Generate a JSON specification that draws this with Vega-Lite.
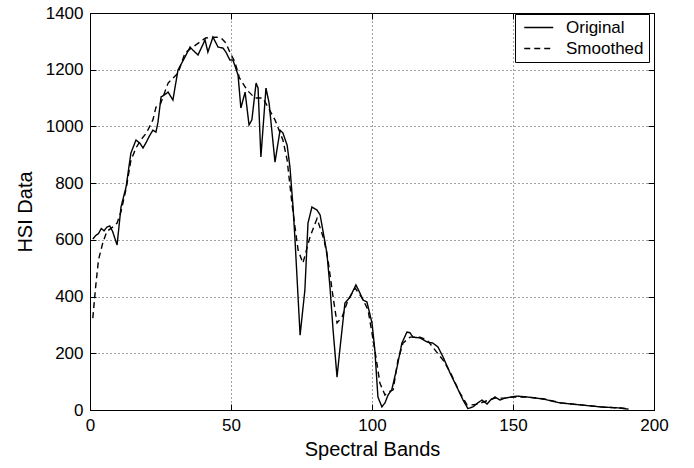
{
  "$schema": "https://vega.github.io/schema/vega-lite/v6.json",
  "autosize": {"type": "none"},
  "width": 564,
  "height": 397,
  "padding": {"left": 90, "top": 13, "right": 40, "bottom": 58},
  "background": "white",
  "config": {
    "font": "Liberation Sans",
    "view": {"stroke": "black", "strokeWidth": 1},
    "axis": {
      "domainColor": "black",
      "tickColor": "black",
      "labelColor": "black",
      "titleColor": "black",
      "labelFont": "Liberation Sans",
      "titleFont": "Liberation Sans",
      "labelFontSize": 17,
      "titleFontSize": 20,
      "titleFontWeight": "normal",
      "labelFlush": false,
      "gridColor": "#444",
      "gridDash": [1, 3],
      "gridWidth": 1,
      "tickSize": -6
    }
  },
  "data": {"values": [
    {"band":1,"hsi":603,"series":"Original"},{"band":2,"hsi":615,"series":"Original"},{"band":3,"hsi":622,"series":"Original"},{"band":4,"hsi":640,"series":"Original"},{"band":5,"hsi":632,"series":"Original"},{"band":6,"hsi":645,"series":"Original"},{"band":7,"hsi":649,"series":"Original"},{"band":8,"hsi":630,"series":"Original"},{"band":9,"hsi":600,"series":"Original"},{"band":9.6,"hsi":582,"series":"Original"},{"band":11,"hsi":716,"series":"Original"},{"band":12.8,"hsi":787,"series":"Original"},{"band":14.5,"hsi":906,"series":"Original"},{"band":16.3,"hsi":952,"series":"Original"},{"band":17.7,"hsi":941,"series":"Original"},{"band":18.8,"hsi":924,"series":"Original"},{"band":20,"hsi":945,"series":"Original"},{"band":21,"hsi":965,"series":"Original"},{"band":22.3,"hsi":987,"series":"Original"},{"band":23.4,"hsi":980,"series":"Original"},{"band":24.1,"hsi":1015,"series":"Original"},{"band":25.2,"hsi":1104,"series":"Original"},{"band":26.5,"hsi":1112,"series":"Original"},{"band":27.7,"hsi":1121,"series":"Original"},{"band":29.4,"hsi":1093,"series":"Original"},{"band":31.2,"hsi":1199,"series":"Original"},{"band":33.7,"hsi":1245,"series":"Original"},{"band":35.5,"hsi":1280,"series":"Original"},{"band":36.5,"hsi":1269,"series":"Original"},{"band":38.3,"hsi":1252,"series":"Original"},{"band":40.8,"hsi":1305,"series":"Original"},{"band":41.8,"hsi":1262,"series":"Original"},{"band":43.6,"hsi":1315,"series":"Original"},{"band":45.4,"hsi":1280,"series":"Original"},{"band":47.2,"hsi":1276,"series":"Original"},{"band":48.2,"hsi":1262,"series":"Original"},{"band":49.6,"hsi":1234,"series":"Original"},{"band":50.7,"hsi":1234,"series":"Original"},{"band":52.5,"hsi":1181,"series":"Original"},{"band":53.5,"hsi":1065,"series":"Original"},{"band":55,"hsi":1121,"series":"Original"},{"band":56.4,"hsi":1005,"series":"Original"},{"band":57.4,"hsi":1023,"series":"Original"},{"band":58.9,"hsi":1153,"series":"Original"},{"band":59.6,"hsi":1135,"series":"Original"},{"band":60.6,"hsi":892,"series":"Original"},{"band":62.4,"hsi":1135,"series":"Original"},{"band":63.5,"hsi":1083,"series":"Original"},{"band":65.6,"hsi":874,"series":"Original"},{"band":67.4,"hsi":987,"series":"Original"},{"band":68.4,"hsi":977,"series":"Original"},{"band":69.9,"hsi":934,"series":"Original"},{"band":70.9,"hsi":857,"series":"Original"},{"band":72,"hsi":716,"series":"Original"},{"band":72.7,"hsi":600,"series":"Original"},{"band":74.5,"hsi":264,"series":"Original"},{"band":76.2,"hsi":423,"series":"Original"},{"band":77.3,"hsi":659,"series":"Original"},{"band":78.7,"hsi":716,"series":"Original"},{"band":80.5,"hsi":705,"series":"Original"},{"band":81.6,"hsi":688,"series":"Original"},{"band":84,"hsi":554,"series":"Original"},{"band":85.1,"hsi":434,"series":"Original"},{"band":86.2,"hsi":282,"series":"Original"},{"band":87.6,"hsi":116,"series":"Original"},{"band":88.7,"hsi":222,"series":"Original"},{"band":90.4,"hsi":377,"series":"Original"},{"band":92.2,"hsi":398,"series":"Original"},{"band":94.3,"hsi":441,"series":"Original"},{"band":95.7,"hsi":413,"series":"Original"},{"band":96.8,"hsi":388,"series":"Original"},{"band":98.2,"hsi":381,"series":"Original"},{"band":100,"hsi":307,"series":"Original"},{"band":101,"hsi":212,"series":"Original"},{"band":102.1,"hsi":46,"series":"Original"},{"band":103.5,"hsi":11,"series":"Original"},{"band":104.6,"hsi":25,"series":"Original"},{"band":105.7,"hsi":53,"series":"Original"},{"band":107,"hsi":71,"series":"Original"},{"band":108.9,"hsi":152,"series":"Original"},{"band":110.6,"hsi":236,"series":"Original"},{"band":112.4,"hsi":275,"series":"Original"},{"band":113.5,"hsi":272,"series":"Original"},{"band":114.5,"hsi":257,"series":"Original"},{"band":117,"hsi":254,"series":"Original"},{"band":119.5,"hsi":240,"series":"Original"},{"band":121.6,"hsi":236,"series":"Original"},{"band":123.4,"hsi":222,"series":"Original"},{"band":125.2,"hsi":187,"series":"Original"},{"band":127.7,"hsi":130,"series":"Original"},{"band":130.1,"hsi":81,"series":"Original"},{"band":132.3,"hsi":35,"series":"Original"},{"band":134,"hsi":5,"series":"Original"},{"band":135.8,"hsi":11,"series":"Original"},{"band":137.5,"hsi":25,"series":"Original"},{"band":139,"hsi":35,"series":"Original"},{"band":140.8,"hsi":21,"series":"Original"},{"band":142,"hsi":35,"series":"Original"},{"band":143.6,"hsi":46,"series":"Original"},{"band":145.4,"hsi":35,"series":"Original"},{"band":147.2,"hsi":42,"series":"Original"},{"band":149.6,"hsi":46,"series":"Original"},{"band":151.4,"hsi":49,"series":"Original"},{"band":155,"hsi":46,"series":"Original"},{"band":160.6,"hsi":39,"series":"Original"},{"band":166.7,"hsi":25,"series":"Original"},{"band":173.8,"hsi":18,"series":"Original"},{"band":180.9,"hsi":11,"series":"Original"},{"band":188,"hsi":7,"series":"Original"},{"band":191,"hsi":3,"series":"Original"},
    {"band":1,"hsi":324,"series":"Smoothed"},{"band":2,"hsi":434,"series":"Smoothed"},{"band":3,"hsi":529,"series":"Smoothed"},{"band":4.6,"hsi":592,"series":"Smoothed"},{"band":6,"hsi":630,"series":"Smoothed"},{"band":8,"hsi":645,"series":"Smoothed"},{"band":9.6,"hsi":659,"series":"Smoothed"},{"band":11,"hsi":700,"series":"Smoothed"},{"band":12.8,"hsi":780,"series":"Smoothed"},{"band":14.5,"hsi":880,"series":"Smoothed"},{"band":16.3,"hsi":924,"series":"Smoothed"},{"band":18,"hsi":952,"series":"Smoothed"},{"band":20,"hsi":977,"series":"Smoothed"},{"band":22.3,"hsi":1023,"series":"Smoothed"},{"band":23.4,"hsi":1068,"series":"Smoothed"},{"band":25,"hsi":1080,"series":"Smoothed"},{"band":27.7,"hsi":1153,"series":"Smoothed"},{"band":31.2,"hsi":1188,"series":"Smoothed"},{"band":33.7,"hsi":1259,"series":"Smoothed"},{"band":36.5,"hsi":1280,"series":"Smoothed"},{"band":41,"hsi":1312,"series":"Smoothed"},{"band":44.7,"hsi":1315,"series":"Smoothed"},{"band":46.5,"hsi":1312,"series":"Smoothed"},{"band":48.2,"hsi":1294,"series":"Smoothed"},{"band":49.6,"hsi":1262,"series":"Smoothed"},{"band":51.4,"hsi":1227,"series":"Smoothed"},{"band":53,"hsi":1171,"series":"Smoothed"},{"band":55.7,"hsi":1128,"series":"Smoothed"},{"band":58.5,"hsi":1100,"series":"Smoothed"},{"band":61.3,"hsi":1100,"series":"Smoothed"},{"band":63.1,"hsi":1068,"series":"Smoothed"},{"band":65.6,"hsi":1023,"series":"Smoothed"},{"band":68.4,"hsi":952,"series":"Smoothed"},{"band":69.9,"hsi":882,"series":"Smoothed"},{"band":71.6,"hsi":730,"series":"Smoothed"},{"band":72.7,"hsi":645,"series":"Smoothed"},{"band":73.8,"hsi":564,"series":"Smoothed"},{"band":75.5,"hsi":518,"series":"Smoothed"},{"band":78,"hsi":610,"series":"Smoothed"},{"band":80.5,"hsi":675,"series":"Smoothed"},{"band":83,"hsi":600,"series":"Smoothed"},{"band":84.4,"hsi":529,"series":"Smoothed"},{"band":86.2,"hsi":398,"series":"Smoothed"},{"band":87.6,"hsi":307,"series":"Smoothed"},{"band":89.4,"hsi":328,"series":"Smoothed"},{"band":91.5,"hsi":388,"series":"Smoothed"},{"band":94,"hsi":430,"series":"Smoothed"},{"band":96.5,"hsi":395,"series":"Smoothed"},{"band":98.6,"hsi":353,"series":"Smoothed"},{"band":101,"hsi":212,"series":"Smoothed"},{"band":102.8,"hsi":95,"series":"Smoothed"},{"band":104.6,"hsi":53,"series":"Smoothed"},{"band":105.7,"hsi":63,"series":"Smoothed"},{"band":107.5,"hsi":71,"series":"Smoothed"},{"band":109.2,"hsi":176,"series":"Smoothed"},{"band":111,"hsi":236,"series":"Smoothed"},{"band":113.5,"hsi":257,"series":"Smoothed"},{"band":117,"hsi":257,"series":"Smoothed"},{"band":119.5,"hsi":247,"series":"Smoothed"},{"band":125.2,"hsi":176,"series":"Smoothed"},{"band":127.7,"hsi":134,"series":"Smoothed"},{"band":131.2,"hsi":60,"series":"Smoothed"},{"band":133.7,"hsi":18,"series":"Smoothed"},{"band":135.5,"hsi":18,"series":"Smoothed"},{"band":137.5,"hsi":21,"series":"Smoothed"},{"band":140,"hsi":30,"series":"Smoothed"},{"band":143.6,"hsi":42,"series":"Smoothed"},{"band":147,"hsi":42,"series":"Smoothed"},{"band":150,"hsi":46,"series":"Smoothed"},{"band":155,"hsi":46,"series":"Smoothed"},{"band":161,"hsi":39,"series":"Smoothed"},{"band":167,"hsi":25,"series":"Smoothed"},{"band":174,"hsi":18,"series":"Smoothed"},{"band":181,"hsi":11,"series":"Smoothed"},{"band":188,"hsi":7,"series":"Smoothed"},{"band":190,"hsi":5,"series":"Smoothed"}
  ]},
  "layer": [
    {
      "mark": {"type": "line", "color": "black", "strokeWidth": 1.4},
      "encoding": {
        "x": {"field": "band", "type": "quantitative", "scale": {"domain": [0, 200], "nice": false},
              "axis": {"title": "Spectral Bands", "values": [0, 50, 100, 150, 200], "format": "d", "grid": true, "labelPadding": 13, "titlePadding": 6}},
        "y": {"field": "hsi", "type": "quantitative", "scale": {"domain": [0, 1400], "nice": false},
              "axis": {"title": "HSI Data", "values": [0, 200, 400, 600, 800, 1000, 1200, 1400], "format": "d", "grid": true, "labelPadding": 13, "titlePadding": 10}},
        "strokeDash": {"field": "series", "type": "nominal",
          "scale": {"domain": ["Original", "Smoothed"], "range": [[1, 0], [6, 4]]},
          "legend": {"title": null, "orient": "none", "legendX": 425, "legendY": 1, "strokeColor": "black", "fillColor": "white",
                     "padding": 5, "labelFontSize": 17, "labelFont": "Liberation Sans", "labelColor": "black",
                     "symbolType": "M-0.6,0H3.5", "symbolSize": 200, "symbolStrokeWidth": 1.4, "symbolStrokeColor": "black",
                     "symbolFillColor": "transparent",
                     "rowPadding": 3, "labelOffset": 29}}
      }
    },
    {
      "mark": {"type": "line", "strokeOpacity": 0},
      "encoding": {
        "x": {"field": "band", "type": "quantitative",
              "axis": {"orient": "top", "title": null, "labels": false, "grid": false, "values": [0, 50, 100, 150, 200]}},
        "y": {"field": "hsi", "type": "quantitative",
              "axis": {"orient": "right", "title": null, "labels": false, "grid": false, "values": [0, 200, 400, 600, 800, 1000, 1200, 1400]}},
        "detail": {"field": "series"}
      }
    }
  ],
  "resolve": {"axis": {"x": "independent", "y": "independent"}}
}
